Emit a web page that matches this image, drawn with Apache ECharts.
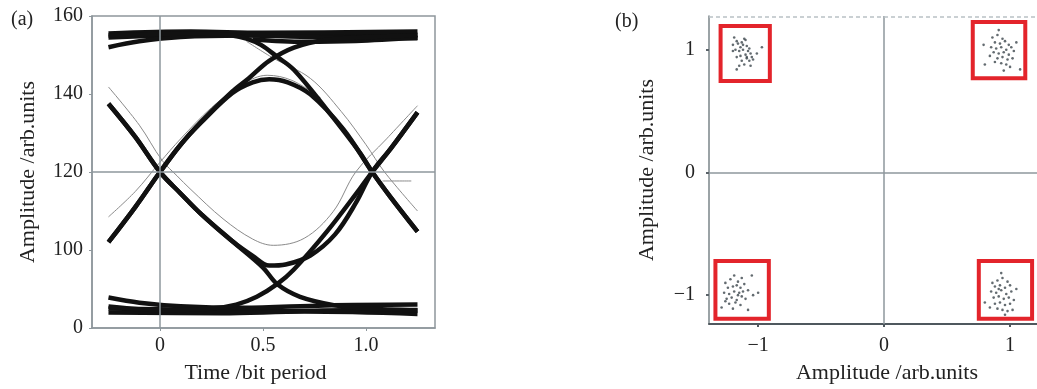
<!DOCTYPE html>
<html>
<head>
<meta charset="utf-8">
<script src="https://cdn.jsdelivr.net/npm/echarts@6/dist/echarts.min.js"></script>
<style>
html, body { margin: 0; padding: 0; background: #fff; }
#chart { width: 1037px; height: 389px; }
</style>
</head>
<body>
<div id="chart"></div>
<script>
// ---- (a) eye diagram, traces as [time, amplitude] ----
const eyeXTicks = [0, 0.5, 1]
const eyeXLabels = ['0', '0.5', '1.0']
const eyeYTicks = [80, 100, 120, 140, 160]
const eyeYLabels = ['0', '100', '120', '140', '160']

// top rail (1 1 1), a few traces in the bundle
const rail1a = [[-0.25, 154.5], [0, 155], [0.3, 155.4], [0.6, 155], [0.9, 154.8], [1.25, 155.2]]
const rail1b = [[-0.25, 152], [-0.1, 153.5], [0.1, 154.6], [0.4, 155], [0.8, 154.5], [1.25, 154.3]]
const rail1c = [[-0.25, 155.5], [0.15, 156], [0.5, 155.7], [1.25, 156]]
const rail1d = [[0.45, 154], [0.7, 153.4], [0.95, 153.6], [1.25, 154.4]]
// bottom rail (0 0 0)
const rail0a = [[-0.25, 85], [0, 84.8], [0.5, 84.3], [1.0, 84.6], [1.25, 84.5]]
const rail0b = [[-0.25, 87.8], [-0.1, 86.5], [0.1, 85.6], [0.4, 85.2], [0.8, 85.8], [1.25, 86]]
const rail0c = [[-0.25, 84], [0.3, 83.8], [0.7, 84.2], [1.25, 83.6]]
// transitions
const fall100 = [[-0.25, 137.5], [-0.12, 129], [0, 120], [0.1, 114.5], [0.2, 109.2], [0.35, 102.3], [0.5, 95.5], [0.57, 91.2], [0.68, 88], [0.85, 85.8], [1.0, 85], [1.25, 84.6]]
const fall101 = [[-0.25, 137.5], [-0.12, 129], [0, 120], [0.1, 114.5], [0.2, 109.2], [0.35, 102.3], [0.45, 98.5], [0.53, 96], [0.61, 96.3], [0.73, 98.6], [0.85, 104], [0.95, 112], [1.03, 120], [1.12, 126], [1.25, 135.3]]
const rise001 = [[-0.25, 85.5], [0, 84.6], [0.25, 85], [0.37, 86], [0.47, 88], [0.57, 91.3], [0.65, 95], [0.81, 104.7], [0.97, 115.7], [1.03, 120], [1.12, 126], [1.25, 135.3]]
const rise010 = [[-0.25, 102], [-0.12, 111], [0, 120], [0.1, 127], [0.2, 132.7], [0.35, 140.2], [0.45, 143], [0.53, 143.8], [0.62, 143], [0.73, 139.9], [0.89, 131], [1.03, 120], [1.12, 113.5], [1.25, 104.7]]
const rise011 = [[-0.25, 102], [-0.12, 111], [0, 120], [0.1, 127], [0.2, 132.9], [0.35, 140.6], [0.43, 144], [0.53, 148.5], [0.65, 151.9], [0.81, 153.9], [1.0, 154.6], [1.25, 155]]
const fall110 = [[-0.25, 155], [0.2, 155.5], [0.35, 155], [0.42, 154.2], [0.49, 152.6], [0.57, 149.5], [0.65, 146.2], [0.81, 136], [0.97, 125], [1.03, 120], [1.12, 113.5], [1.25, 104.7]]
// thin grey traces
const ghostRise = [[-0.25, 108.5], [-0.12, 115], [0, 122.5], [0.1, 128.5], [0.25, 136.5], [0.4, 142.5], [0.52, 144.8], [0.64, 143.5], [0.78, 139]]
const ghostFall = [[-0.25, 141.8], [-0.1, 132], [0.01, 123], [0.083, 119], [0.146, 115.7], [0.306, 108], [0.45, 102.8], [0.55, 101.2], [0.7, 103], [0.84, 109.8], [0.95, 120], [1.1, 128.5], [1.25, 137]]
const ghostTop = [[0.42, 153.5], [0.55, 149.2], [0.73, 144], [0.88, 135.5], [1.0, 127], [1.09, 120], [1.25, 110]]
const ghostStub = [[1.08, 117.7], [1.22, 117.7]]

// ---- (b) constellation ----
const conXTicks = [-1, 0, 1]
const conXLabels = ['\u22121', '0', '1']
const conYTicks = [-1, 0, 1]
const conYLabels = ['\u22121', '0', '1']
const conTop = 1.275

const ptsTL = [[-1.19, 1.10], [-1.17, 1.07], [-1.20, 1.04], [-1.16, 1.05], [-1.13, 1.06], [-1.10, 1.08], [-1.12, 1.04], [-1.14, 1.02], [-1.09, 1.03], [-1.18, 1.00], [-1.15, 0.99], [-1.12, 1.00], [-1.07, 1.01], [-1.06, 0.97], [-1.10, 0.96], [-1.14, 0.95], [-1.17, 0.94], [-1.09, 0.94], [-1.05, 0.94], [-1.13, 0.91], [-1.07, 0.91], [-1.04, 0.92], [-1.11, 0.88], [-1.15, 0.87], [-1.06, 0.87], [-0.97, 1.02], [-1.01, 0.97], [-1.17, 0.84], [-1.20, 0.99], [-1.09, 0.93], [-1.11, 1.09], [-1.08, 0.99]]
const ptsTR = [[0.86, 1.10], [0.90, 1.12], [0.94, 1.09], [0.88, 1.06], [0.92, 1.05], [0.96, 1.07], [0.99, 1.04], [0.85, 1.02], [0.89, 1.01], [0.93, 1.02], [0.97, 1.00], [1.01, 1.02], [0.87, 0.98], [0.91, 0.97], [0.95, 0.98], [0.99, 0.96], [1.03, 0.99], [0.84, 0.95], [0.90, 0.93], [0.94, 0.94], [0.98, 0.92], [1.02, 0.93], [0.88, 0.90], [0.93, 0.89], [0.97, 0.88], [1.00, 0.86], [0.80, 0.88], [1.08, 0.84], [0.91, 1.16], [0.79, 1.04], [1.05, 1.06], [0.95, 0.83]]
const ptsBL = [[-1.26, -0.90], [-1.22, -0.87], [-1.19, -0.84], [-1.16, -0.89], [-1.13, -0.86], [-1.24, -0.94], [-1.20, -0.93], [-1.17, -0.92], [-1.14, -0.94], [-1.11, -0.91], [-1.27, -0.98], [-1.23, -0.99], [-1.19, -0.97], [-1.15, -0.98], [-1.12, -0.97], [-1.08, -0.96], [-1.25, -1.03], [-1.21, -1.02], [-1.17, -1.04], [-1.13, -1.01], [-1.10, -1.03], [-1.04, -1.00], [-1.23, -1.07], [-1.18, -1.06], [-1.14, -1.08], [-1.29, -1.10], [-1.08, -1.12], [-1.00, -0.98], [-1.26, -1.05], [-1.16, -1.00], [-1.05, -0.84], [-1.20, -1.11]]
const ptsBR = [[0.86, -0.90], [0.90, -0.88], [0.94, -0.86], [0.98, -0.89], [0.88, -0.93], [0.92, -0.92], [0.96, -0.94], [1.00, -0.92], [0.85, -0.97], [0.89, -0.98], [0.93, -0.96], [0.97, -0.99], [1.01, -0.97], [0.87, -1.02], [0.91, -1.01], [0.95, -1.03], [0.99, -1.02], [1.03, -1.04], [0.88, -1.07], [0.92, -1.06], [0.96, -1.08], [1.00, -1.07], [0.90, -1.11], [0.94, -1.12], [0.98, -1.13], [0.80, -1.06], [1.05, -0.95], [0.93, -0.82], [0.96, -1.16], [0.84, -1.10], [1.02, -1.12], [0.91, -0.95]]
// red frames: [x1, y1, x2, y2]
const redBoxes = [
  [-1.298, 1.194, -0.907, 0.746],
  [0.704, 1.227, 1.121, 0.768],
  [-1.339, -0.722, -0.915, -1.192],
  [0.752, -0.722, 1.175, -1.192]
]

const serif = 'Liberation Serif'
const axisGrey = '#8e979c'

function trace(data, color, width, z) {
  return {
    type: 'line', xAxisIndex: 0, yAxisIndex: 0, data,
    smooth: 0.35, symbol: 'none', silent: true, z,
    lineStyle: { color, width }
  }
}

const eyeBlack = [rail1a, rail1b, rail1c, rail1d, rail0a, rail0b, rail0c,
  fall100, fall101, rise001, rise010, rise011, fall110]
const eyeGrey = [ghostRise, ghostFall, ghostTop, ghostStub]

const series = []
series.push({
  type: 'line', xAxisIndex: 0, yAxisIndex: 0, data: [], silent: true,
  markLine: {
    silent: true, symbol: 'none', label: { show: false },
    lineStyle: { color: axisGrey, width: 1.5, type: 'solid' },
    data: [{ xAxis: 0 }, { yAxis: 120 }]
  }
})
eyeGrey.forEach(d => series.push(trace(d, '#8a8a8a', 1, 3)))
eyeBlack.forEach(d => series.push(trace(d, '#111', 4.5, 4)))

series.push({
  type: 'scatter', xAxisIndex: 1, yAxisIndex: 1, data: [], silent: true,
  markLine: {
    silent: true, symbol: 'none', label: { show: false },
    lineStyle: { color: axisGrey, width: 1.5, type: 'solid' },
    data: [{ xAxis: 0 }, { yAxis: 0 },
      { yAxis: conTop, lineStyle: { color: '#b9c1c5', width: 1.5, type: [4, 3] } }]
  },
  markArea: {
    silent: true,
    itemStyle: { color: 'rgba(0,0,0,0)', borderColor: '#e3242b', borderWidth: 4 },
    data: redBoxes.map(b => [{ xAxis: b[0], yAxis: b[1] }, { xAxis: b[2], yAxis: b[3] }])
  }
});
[ptsTL, ptsTR, ptsBL, ptsBR].forEach(d => series.push({
  type: 'scatter', xAxisIndex: 1, yAxisIndex: 1, data: d, silent: true,
  symbolSize: 2.6, itemStyle: { color: '#3c464c' }
}))

const tickFont = { fontFamily: serif, fontSize: 20, color: '#222' }
const nameFont = { fontFamily: serif, fontSize: 22, color: '#222' }

const chart = echarts.init(document.getElementById('chart'))
chart.setOption({
  animation: false,
  backgroundColor: '#fff',
  title: [
    { text: '(a)', left: 6, top: 5, textStyle: { fontFamily: serif, fontSize: 20, fontWeight: 'normal', color: '#222' } },
    { text: '(b)', left: 610, top: 7, textStyle: { fontFamily: serif, fontSize: 20, fontWeight: 'normal', color: '#222' } }
  ],
  grid: [
    { left: 92, top: 16, width: 343, height: 314, show: true, borderColor: axisGrey, borderWidth: 1.5 },
    { left: 709, top: 16, right: 0, height: 310 }
  ],
  xAxis: [
    {
      gridIndex: 0, type: 'value', min: -0.33, max: 1.335,
      name: 'Time /bit period', nameLocation: 'middle', nameGap: 34,
      nameTextStyle: Object.assign({ padding: [0, 16, 0, 0] }, nameFont),
      axisLine: { show: true, onZero: false, lineStyle: { color: axisGrey, width: 1.5 } },
      axisTick: { show: true, customValues: eyeXTicks, length: 3, lineStyle: { color: axisGrey } },
      axisLabel: Object.assign({ customValues: eyeXTicks, margin: 8, formatter: v => eyeXLabels[eyeXTicks.indexOf(v)] }, tickFont),
      splitLine: { show: false }
    },
    {
      gridIndex: 1, type: 'value', min: -1.39, max: 1.214,
      name: 'Amplitude /arb.units', nameLocation: 'middle', nameGap: 38,
      nameTextStyle: Object.assign({ padding: [0, 0, 0, 28] }, nameFont),
      axisLine: { show: true, onZero: false, lineStyle: { color: '#4f585e', width: 2 } },
      axisTick: { show: true, customValues: conXTicks, length: 3, lineStyle: { color: '#4f585e', width: 2 } },
      axisLabel: Object.assign({ customValues: conXTicks, margin: 12, formatter: v => conXLabels[conXTicks.indexOf(v)] }, tickFont),
      splitLine: { show: false }
    }
  ],
  yAxis: [
    {
      gridIndex: 0, type: 'value', min: 80, max: 160, interval: 20,
      name: 'Amplitude /arb.units', nameLocation: 'middle', nameGap: 53,
      nameTextStyle: nameFont,
      axisLine: { show: true, onZero: false, lineStyle: { color: axisGrey, width: 1.5 } },
      axisTick: { show: true, length: 3, lineStyle: { color: axisGrey } },
      axisLabel: Object.assign({ margin: 9, formatter: v => eyeYLabels[eyeYTicks.indexOf(v)] }, tickFont),
      splitLine: { show: false }
    },
    {
      gridIndex: 1, type: 'value', min: -1.235, max: conTop,
      name: 'Amplitude /arb.units', nameLocation: 'middle', nameGap: 51,
      nameTextStyle: nameFont,
      axisLine: { show: true, onZero: false, lineStyle: { color: '#7a8489', width: 1.5 } },
      axisTick: { show: true, customValues: conYTicks, length: 3, lineStyle: { color: '#5a6369', width: 2 } },
      axisLabel: Object.assign({ customValues: conYTicks, margin: 14, formatter: v => conYLabels[conYTicks.indexOf(v)] }, tickFont),
      splitLine: { show: false }
    }
  ],
  series
})
</script>
</body>
</html>
